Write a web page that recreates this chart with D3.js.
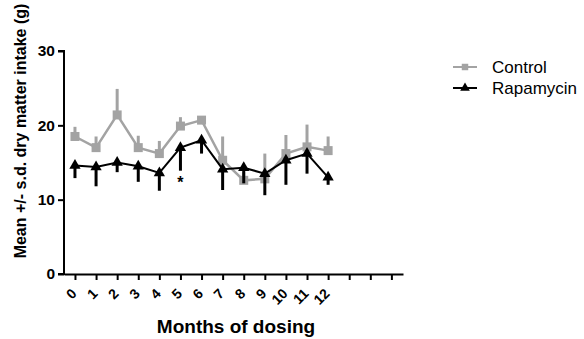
<!DOCTYPE html>
<html>
<head>
<meta charset="utf-8">
<script src="https://cdn.jsdelivr.net/npm/d3@7"></script>
<style>
  body { margin: 0; background: #fff; }
  text { font-family: "Liberation Sans", Arial, sans-serif; }
</style>
</head>
<body>
<svg id="chart" width="584" height="339"></svg>
<script>
var width = 584;
var height = 339;

// months of dosing
var months = [0, 1, 2, 3, 4, 5, 6, 7, 8, 9, 10, 11, 12];
var tickLabels = ["0", "1", "2", "3", "4", "5", "6", "7", "8", "9", "10", "11", "12", "", "", ""];

// mean dry matter intake (g) and s.d.
var controlMean = [18.5, 17.0, 21.4, 17.0, 16.2, 19.9, 20.7, 15.3, 12.6, 12.8, 16.2, 17.1, 16.6];
var controlSd = [1.3, 1.5, 3.5, 1.6, 1.7, 1.2, 0.3, 3.2, 1.1, 3.4, 2.5, 3.0, 1.9];
var rapaMean = [14.6, 14.4, 15.0, 14.5, 13.6, 17.0, 18.0, 14.1, 14.3, 13.5, 15.3, 16.2, 13.0];
var rapaSd = [1.7, 2.6, 1.3, 2.1, 2.4, 3.1, 1.8, 2.8, 2.1, 2.9, 3.3, 2.7, 1.0];

var yTicks = [0, 10, 20, 30];

var svg = d3.select("#chart");

var xScale = d3.scaleLinear()
  .domain([-0.52, 15.55])
  .range([64, 403]);

var yScale = d3.scaleLinear()
  .domain([0, 30])
  .range([274, 51]);

// y axis
var yAxis = svg.append("g")
  .attr("transform", "translate(64,0)")
  .call(d3.axisLeft(yScale).tickValues(yTicks).tickSize(6).tickPadding(3));
yAxis.select(".domain").attr("stroke", "#000").attr("stroke-width", 2).attr("d", "M-6,274H0V51H-6");
yAxis.selectAll(".tick line").attr("stroke-width", 2);
yAxis.selectAll(".tick text")
  .attr("font-size", 15.5).attr("font-weight", "bold").attr("fill", "#000");

// x axis
var xAxis = svg.append("g")
  .attr("transform", "translate(0,274)")
  .call(d3.axisBottom(xScale)
    .tickValues(d3.range(16))
    .tickSize(6)
    .tickSizeOuter(0)
    .tickFormat(function(d) { return tickLabels[d]; }));
xAxis.select(".domain").attr("stroke-width", 2);
xAxis.selectAll(".tick line").attr("stroke-width", 2);
xAxis.selectAll(".tick text")
  .attr("font-size", 14).attr("font-weight", "bold").attr("fill", "#000")
  .attr("text-anchor", "end")
  .attr("y", 0).attr("dy", "0.35em")
  .attr("transform", "translate(-1.5,17) rotate(-45)");

// titles
svg.append("text")
  .attr("x", 236).attr("y", 333)
  .attr("text-anchor", "middle")
  .attr("font-size", 19).attr("font-weight", "bold")
  .text("Months of dosing");

svg.append("text")
  .attr("transform", "translate(26,131) rotate(-90)")
  .attr("text-anchor", "middle")
  .attr("font-size", 16).attr("font-weight", "bold")
  .text("Mean +/- s.d. dry matter intake (g)");

var line = d3.line()
  .x(function(d, i) { return xScale(months[i]); })
  .y(function(d) { return yScale(d); });

var gray = "#a3a3a3";

// control: error bars up
svg.append("g").selectAll("line")
  .data(controlMean)
  .enter().append("line")
  .attr("x1", function(d, i) { return xScale(months[i]); })
  .attr("x2", function(d, i) { return xScale(months[i]); })
  .attr("y1", function(d) { return yScale(d); })
  .attr("y2", function(d, i) { return yScale(d + controlSd[i]); })
  .attr("stroke", gray).attr("stroke-width", 3);

svg.append("path")
  .datum(controlMean)
  .attr("d", line)
  .attr("fill", "none").attr("stroke", gray).attr("stroke-width", 2.5);

svg.append("g").selectAll("rect")
  .data(controlMean)
  .enter().append("rect")
  .attr("x", function(d, i) { return xScale(months[i]) - 4.5; })
  .attr("y", function(d) { return yScale(d) - 4.5; })
  .attr("width", 9).attr("height", 9)
  .attr("fill", gray);

// rapamycin: error bars down
svg.append("g").selectAll("line")
  .data(rapaMean)
  .enter().append("line")
  .attr("x1", function(d, i) { return xScale(months[i]); })
  .attr("x2", function(d, i) { return xScale(months[i]); })
  .attr("y1", function(d) { return yScale(d); })
  .attr("y2", function(d, i) { return yScale(d - rapaSd[i]); })
  .attr("stroke", "#000").attr("stroke-width", 3);

svg.append("path")
  .datum(rapaMean)
  .attr("d", line)
  .attr("fill", "none").attr("stroke", "#000").attr("stroke-width", 2);

var tri = d3.symbol().type(d3.symbolTriangle).size(55);
svg.append("g").selectAll("path")
  .data(rapaMean)
  .enter().append("path")
  .attr("d", tri)
  .attr("transform", function(d, i) { return "translate(" + xScale(months[i]) + "," + yScale(d) + ")"; })
  .attr("fill", "#000");

// significance marker
svg.append("text")
  .attr("x", xScale(5)).attr("y", yScale(12.8) + 9)
  .attr("text-anchor", "middle")
  .attr("font-size", 16).attr("font-weight", "bold")
  .text("*");

// legend
var legend = [
  { name: "Control", color: gray, shape: "square", y: 67 },
  { name: "Rapamycin", color: "#000", shape: "triangle", y: 88 }
];
var lg = svg.append("g").selectAll("g")
  .data(legend)
  .enter().append("g")
  .attr("transform", function(d) { return "translate(453," + d.y + ")"; });
lg.append("line")
  .attr("x1", 0).attr("x2", 24)
  .attr("stroke", function(d) { return d.color; }).attr("stroke-width", 2);
lg.append("path")
  .attr("d", function(d) {
    return d.shape == "square" ? d3.symbol().type(d3.symbolSquare).size(42)() : d3.symbol().type(d3.symbolTriangle).size(40)();
  })
  .attr("transform", "translate(12,0)")
  .attr("fill", function(d) { return d.color; });
lg.append("text")
  .attr("x", 39).attr("dy", "0.35em")
  .attr("font-size", 17)
  .text(function(d) { return d.name; });
</script>
</body>
</html>
